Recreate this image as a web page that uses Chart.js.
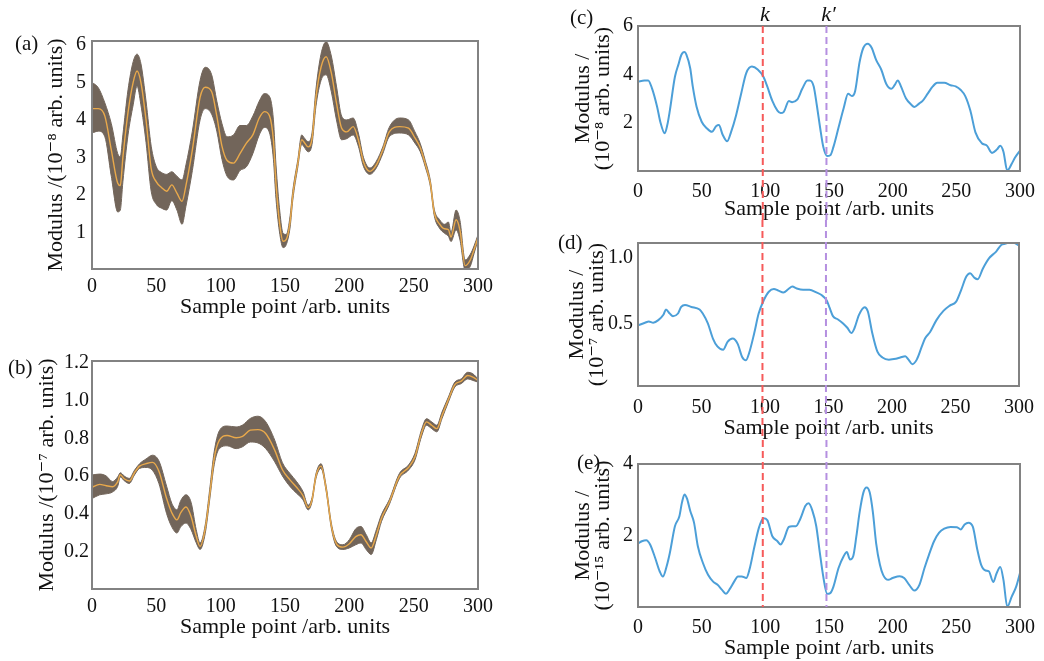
<!DOCTYPE html>
<html>
<head>
<meta charset="utf-8">
<script src="https://cdn.jsdelivr.net/npm/chart.js@4.4.0/dist/chart.umd.min.js"></script>
<style>
  body { margin: 0; background: #fff; }
  #page { position: relative; width: 1044px; height: 661px; overflow: hidden; font-family: 'Liberation Serif', 'DejaVu Serif', serif; }
  #page canvas { position: absolute; }
  .tag { position: absolute; font-size: 21px; line-height: 1; color: #111; }
</style>
</head>
<body>
<div id="page">
  <canvas id="chart-a" width="500" height="310" style="left:0;top:20px"></canvas>
  <canvas id="chart-b" width="500" height="331" style="left:0;top:330px"></canvas>
  <canvas id="chart-c" width="484" height="220" style="left:560px;top:0"></canvas>
  <canvas id="chart-d" width="484" height="220" style="left:560px;top:220px"></canvas>
  <canvas id="chart-e" width="484" height="221" style="left:560px;top:440px"></canvas>
  <div class="tag" style="left:15px;top:33px">(a)</div>
  <div class="tag" style="left:8px;top:357px">(b)</div>
  <div class="tag" style="left:570px;top:7px">(c)</div>
  <div class="tag" style="left:558px;top:232px">(d)</div>
  <div class="tag" style="left:577px;top:452px">(e)</div>
</div>
<script>
// sample axis shared by every panel
const sampleTicks = [0, 50, 100, 150, 200, 250, 300];

// (a) spread of all runs (upper / lower edge) and the mean, 10^-8
const aX = [0, 5, 10, 15, 20, 22, 24, 28, 32, 35, 38, 42, 46, 50, 54, 58, 62, 66, 70, 73,
    78, 84, 88, 93, 97, 101, 105, 110, 115, 120, 125, 130, 134, 138, 141, 143, 146, 148.5, 151, 154,
    156, 160, 163, 165, 168, 171, 174, 178, 182, 186, 190, 194, 198, 203, 207, 211, 216, 221, 226, 231,
    239, 246, 251, 255, 259, 263, 266, 270, 274, 277, 279, 283, 286, 290, 294, 297, 300];
const aUpper = [5.0, 4.85, 4.45, 3.9, 3.1, 3.02, 3.6, 4.8, 5.55, 5.75, 5.5, 4.5, 3.3, 2.75, 2.6, 2.55, 2.62, 2.5, 2.4, 2.8,
    3.7, 5.05, 5.4, 5.2, 4.5, 3.9, 3.55, 3.6, 3.85, 3.85, 4.1, 4.5, 4.7, 4.62, 4.0, 2.8, 1.55, 0.98, 0.95, 1.45,
    2.1, 2.95, 3.6, 3.52, 3.42, 3.65, 4.8, 5.75, 6.08, 5.7, 4.9, 4.1, 4.0, 4.05, 3.65, 3.0, 2.72, 2.9, 3.28, 3.8,
    4.05, 4.0, 3.68, 3.38, 2.92, 2.38, 1.62, 1.35, 1.22, 1.28, 1.0, 1.6, 1.32, 0.27, 0.42, 0.65, 0.94];
const aLower = [3.65, 3.7, 3.55, 2.5, 1.55, 1.6, 2.35, 3.6, 4.4, 4.9, 4.4, 3.4, 2.1, 1.75, 1.65, 1.6, 1.85, 1.6, 1.22, 1.7,
    2.65, 4.0, 4.3, 4.15, 3.7, 2.95, 2.5, 2.4, 2.65, 2.75, 3.1, 3.6, 3.8, 3.65, 2.95, 1.9, 0.95, 0.6, 0.68, 1.15,
    1.85, 2.75, 3.35, 3.27, 3.15, 3.35, 4.35, 5.05, 5.2, 4.75, 4.0, 3.47, 3.5, 3.6, 3.3, 2.76, 2.55, 2.72, 3.1, 3.55,
    3.65, 3.6, 3.38, 3.16, 2.75, 2.22, 1.45, 1.12, 0.98, 0.9, 0.76, 1.07, 0.8, 0.0, 0.1, 0.45, 0.8];
const aMean = [4.3, 4.3, 4.1, 3.2, 2.31, 2.25, 3.0, 4.2, 5.0, 5.3, 5.0, 4.0, 2.7, 2.35, 2.2, 2.1, 2.27, 2.05, 1.83, 2.25,
    3.2, 4.6, 4.87, 4.75, 4.1, 3.3, 2.92, 2.85, 3.1, 3.38, 3.6, 4.05, 4.22, 4.1, 3.45, 2.3, 1.2, 0.77, 0.82, 1.3,
    1.98, 2.85, 3.47, 3.4, 3.28, 3.5, 4.58, 5.4, 5.68, 5.25, 4.45, 3.78, 3.68, 3.82, 3.47, 2.88, 2.63, 2.8, 3.2, 3.68,
    3.82, 3.78, 3.52, 3.27, 2.83, 2.3, 1.53, 1.23, 1.1, 1.08, 0.88, 1.34, 1.06, 0.12, 0.27, 0.55, 0.87];
const aYTicks = [1, 2, 3, 4, 5, 6];

// (b) same, 10^-7
const bX = [0, 6, 11, 16, 20, 22, 25, 29, 33, 37, 42, 47, 52, 58, 62, 66, 69, 73, 77, 81,
    84, 88, 91.5, 95, 99, 105, 112, 117, 123, 129, 135, 142, 148, 154, 159, 164, 168, 171, 174, 178,
    182, 186, 190, 195, 200, 205, 209, 213, 217, 221, 225, 231, 239, 246, 251, 256, 260, 264, 268, 272,
    277, 282, 287, 292, 296, 300];
const bUpper = [0.605, 0.61, 0.6, 0.57, 0.595, 0.617, 0.6, 0.587, 0.63, 0.665, 0.69, 0.71, 0.68, 0.545, 0.455, 0.42, 0.47, 0.5, 0.46, 0.315,
    0.245, 0.34, 0.53, 0.73, 0.84, 0.865, 0.86, 0.87, 0.905, 0.917, 0.888, 0.79, 0.67, 0.612, 0.57, 0.517, 0.445, 0.485, 0.61, 0.665,
    0.545, 0.35, 0.253, 0.235, 0.262, 0.32, 0.332, 0.29, 0.245, 0.315, 0.395, 0.473, 0.614, 0.658, 0.72, 0.843, 0.904, 0.887, 0.869, 0.939,
    1.019, 1.098, 1.115, 1.15, 1.142, 1.115];
const bLower = [0.48, 0.5, 0.505, 0.515, 0.545, 0.595, 0.575, 0.56, 0.605, 0.64, 0.645, 0.63, 0.56, 0.4, 0.33, 0.297, 0.33, 0.35, 0.315, 0.245,
    0.21, 0.295, 0.475, 0.66, 0.745, 0.76, 0.745, 0.755, 0.78, 0.775, 0.745, 0.675, 0.6, 0.543, 0.508, 0.473, 0.42, 0.462, 0.585, 0.64,
    0.518, 0.323, 0.226, 0.21, 0.218, 0.235, 0.244, 0.21, 0.183, 0.262, 0.358, 0.447, 0.587, 0.631, 0.685, 0.807, 0.869, 0.851, 0.834, 0.904,
    0.992, 1.072, 1.09, 1.115, 1.107, 1.098];
const bMean = [0.54, 0.555, 0.548, 0.543, 0.57, 0.607, 0.585, 0.573, 0.617, 0.652, 0.665, 0.672, 0.625, 0.48, 0.405, 0.367, 0.405, 0.435, 0.385, 0.28,
    0.226, 0.32, 0.5, 0.695, 0.79, 0.815, 0.803, 0.81, 0.843, 0.846, 0.825, 0.737, 0.633, 0.578, 0.54, 0.495, 0.432, 0.473, 0.598, 0.652,
    0.53, 0.336, 0.24, 0.222, 0.24, 0.278, 0.288, 0.252, 0.218, 0.288, 0.376, 0.46, 0.6, 0.645, 0.702, 0.825, 0.887, 0.869, 0.851, 0.92,
    1.006, 1.085, 1.103, 1.133, 1.125, 1.107];
const bYTicks = [0.2, 0.4, 0.6, 0.8, 1.0, 1.2];

// (c) single run, 10^-8
const cX = [0, 5, 8, 11, 15, 17.5, 21, 23, 25, 29, 32, 34, 36.5, 38, 41, 43, 46, 50, 54, 58,
    61.5, 63.5, 66.5, 70, 73, 77, 81, 85, 89.5, 94, 98.5, 101.5, 105.5, 109.5, 112, 114.5, 118.5, 121, 125, 129,
    133, 135, 138, 140.5, 143, 145.5, 148.5, 151, 153.5, 157.5, 161.5, 165, 168, 170.5, 174, 177, 180.5, 183.5, 187, 191,
    195, 199, 201.5, 204, 206.5, 210.5, 214.5, 217, 221, 223.5, 227.5, 231.5, 235, 240.5, 245.5, 249.5, 253.5, 257, 261, 265,
    270, 274, 278, 282, 284.5, 287, 290, 293.5, 296, 300];
const cY = [3.7, 3.74, 3.75, 3.42, 2.66, 2.04, 1.56, 1.9, 2.5, 3.9, 4.45, 4.8, 4.92, 4.82, 4.25, 3.5, 2.66, 2.04, 1.77, 1.62,
    1.86, 1.9, 1.5, 1.23, 1.6, 2.3, 3.2, 4.05, 4.32, 4.2, 3.9, 3.5, 2.9, 2.5, 2.4, 2.45, 2.9, 2.85, 2.95, 3.4,
    3.75, 3.75, 3.5, 2.7, 1.8, 1.0, 0.62, 0.65, 1.0, 1.8, 2.6, 3.2, 3.1, 3.3, 4.5, 5.1, 5.27, 5.1, 4.6, 4.2,
    3.6, 3.4, 3.55, 3.75, 3.5, 3.0, 2.75, 2.65, 2.8, 2.9, 3.2, 3.5, 3.65, 3.65, 3.55, 3.5, 3.35, 3.1, 2.5, 1.6,
    1.15, 1.05, 0.75, 0.9, 1.05, 0.8, 0.02, 0.3, 0.55, 0.85];
const cYTicks = [2, 4, 6];

// (d) single run, 10^-7
const dX = [0, 5.5, 8.5, 12, 16, 20, 22, 25, 27.5, 31.5, 34, 37, 42, 48.5, 51, 55, 59, 62.5, 67, 70.5,
    74.5, 78.5, 82, 85, 87.5, 91.5, 95, 99, 103, 107, 110.5, 114.5, 118.5, 121.5, 125, 130, 135, 140.5, 144.5, 148.5,
    151, 153.5, 157.5, 161.5, 165, 168, 170.5, 174, 178.5, 181, 184.5, 188.5, 192.5, 197.5, 203, 206.5, 210.5, 213, 216, 219.5,
    223.5, 226, 230, 235, 240.5, 245.5, 250.5, 254.5, 258.5, 261.5, 265, 267.5, 271.5, 276.5, 282, 286, 289.5, 293.5, 297.5, 300];
const dY = [0.49, 0.51, 0.52, 0.51, 0.53, 0.57, 0.61, 0.58, 0.56, 0.58, 0.63, 0.645, 0.63, 0.61, 0.58, 0.505, 0.39, 0.33, 0.305, 0.365,
    0.39, 0.35, 0.25, 0.225, 0.28, 0.43, 0.58, 0.68, 0.745, 0.766, 0.754, 0.74, 0.766, 0.784, 0.77, 0.76, 0.76, 0.74, 0.72, 0.68,
    0.62, 0.56, 0.535, 0.505, 0.47, 0.432, 0.47, 0.57, 0.628, 0.595, 0.43, 0.29, 0.246, 0.23, 0.236, 0.246, 0.256, 0.23, 0.195, 0.23,
    0.33, 0.39, 0.44, 0.53, 0.6, 0.64, 0.67, 0.76, 0.86, 0.885, 0.85, 0.84, 0.92, 1.0, 1.05, 1.1, 1.11, 1.125, 1.11, 1.095];
const dYTicks = [0.5, 1.0];

// (e) single run, 10^-15
const eX = [0, 3, 6.5, 9.5, 13.5, 17, 19.5, 22.5, 25, 29, 32.5, 34.5, 36.5, 38.5, 41, 44, 47, 51, 55, 59,
    62.5, 66, 69, 72, 75.5, 78.5, 81.5, 85, 87.5, 91.5, 95, 98.5, 101.5, 105.5, 109.5, 112, 114.5, 118.5, 121, 124,
    127.5, 131.5, 134, 137, 140, 142.5, 145.5, 148.5, 151, 153.5, 157.5, 161.5, 164, 166.5, 169, 171.5, 174, 177, 179.5, 182,
    184.5, 187, 190, 192.5, 196.5, 200, 205.5, 209, 213, 217, 221, 225, 228.5, 232.5, 236.5, 240.5, 245.5, 250.5, 253.5, 256.5,
    259.5, 263, 266.5, 269.5, 273, 275.5, 279, 281.5, 284.5, 287, 290, 293.5, 297, 300];
const eY = [1.775, 1.84, 1.87, 1.75, 1.37, 1.0, 0.85, 1.14, 1.51, 2.26, 2.54, 2.92, 3.15, 3.03, 2.69, 2.36, 1.7, 1.23, 0.9, 0.71,
    0.62, 0.48, 0.37, 0.5, 0.71, 0.855, 0.855, 0.81, 1.04, 1.7, 2.22, 2.48, 2.43, 1.98, 1.84, 1.75, 1.89, 2.24, 2.26, 2.26,
    2.47, 2.83, 2.9, 2.69, 2.26, 1.6, 0.85, 0.37, 0.39, 0.57, 1.09, 1.42, 1.54, 1.33, 1.42, 1.98, 2.64, 3.2, 3.34, 3.2,
    2.64, 1.79, 1.18, 0.9, 0.76, 0.81, 0.86, 0.81, 0.62, 0.46, 0.62, 1.09, 1.46, 1.84, 2.08, 2.19, 2.24, 2.23, 2.17, 2.31,
    2.36, 2.24, 1.6, 1.18, 1.02, 1.0, 0.7, 0.93, 1.12, 0.76, 0.01, 0.29, 0.57, 0.95];
const eYTicks = [2, 4];

// marked sample points k and k'
const kPoints = [98, 148];
const kNames = ['k', 'k\u2032'];
const kColors = ['#f65a5a', '#b58fe0'];

const INK = '#111';
const BLUE = '#4c9fd8';
const BAND = '#72655a';
const MEAN = '#e9a94b';

Chart.defaults.font.family = "'Liberation Serif', 'DejaVu Serif', serif";
Chart.defaults.color = INK;

function pts(xs, ys) {
    return xs.map((x, i) => ({ x: x, y: ys[i] }));
}

// grey frame round the plot area
const boxPlugin = {
    id: 'box',
    afterDatasetsDraw(chart) {
        const a = chart.chartArea;
        const ctx = chart.ctx;
        ctx.save();
        ctx.strokeStyle = '#828282';
        ctx.lineWidth = 2;
        ctx.strokeRect(a.left, a.top, a.right - a.left, a.bottom - a.top);
        ctx.restore();
    }
};

// dashed k / k' lines running down the right column
function kPlugin(fromCanvasTop, toCanvasBottom, withNames) {
    return {
        id: 'kLines',
        afterDraw(chart) {
            const ctx = chart.ctx;
            const a = chart.chartArea;
            const y0 = fromCanvasTop ? 0 : a.top;
            const y1 = toCanvasBottom ? chart.height : a.bottom;
            kPoints.forEach((k, i) => {
                const px = chart.scales.x.getPixelForValue(k);
                ctx.save();
                ctx.strokeStyle = kColors[i];
                ctx.lineWidth = 2;
                ctx.setLineDash([7, 4]);
                ctx.beginPath();
                ctx.moveTo(px, y0);
                ctx.lineTo(px, y1);
                ctx.stroke();
                if (withNames) {
                    ctx.setLineDash([]);
                    ctx.fillStyle = INK;
                    ctx.font = "italic 22px 'Liberation Serif', serif";
                    ctx.textAlign = 'center';
                    ctx.textBaseline = 'middle';
                    ctx.fillText(kNames[i], px + 2, 15);
                }
                ctx.restore();
            });
        }
    };
}

function bandSets(xs, upper, lower, mean) {
    return [
        { data: pts(xs, mean), borderColor: MEAN, borderWidth: 1.4, fill: false },
        { data: pts(xs, upper), borderColor: BAND, borderWidth: 1, fill: false },
        { data: pts(xs, lower), borderColor: BAND, borderWidth: 1, fill: '-1', backgroundColor: BAND }
    ];
}

function lineSet(xs, ys) {
    return [{ data: pts(xs, ys), borderColor: BLUE, borderWidth: 2, fill: false }];
}

function makeChart(id, datasets, o) {
    return new Chart(document.getElementById(id), {
        type: 'line',
        data: { datasets: datasets },
        options: {
            responsive: false,
            animation: false,
            events: [],
            layout: { padding: { top: o.top, right: o.right, left: 0, bottom: 0 } },
            plugins: { legend: { display: false }, tooltip: { enabled: false } },
            elements: { point: { radius: 0 }, line: { cubicInterpolationMode: 'monotone' } },
            scales: {
                x: {
                    type: 'linear', min: 0, max: 300,
                    grid: { display: false, drawTicks: false },
                    border: { display: false },
                    afterBuildTicks: s => { s.ticks = sampleTicks.map(v => ({ value: v })); },
                    afterFit: s => { s.height = o.xh; },
                    ticks: { padding: o.xPad, autoSkip: false, maxRotation: 0, font: { size: 20 } },
                    title: {
                        display: true, text: 'Sample point /arb. units',
                        font: { size: 22, lineHeight: 1 },
                        padding: { top: 0, bottom: o.xTitlePad }
                    }
                },
                y: {
                    type: 'linear', min: o.yMin, max: o.yMax,
                    grid: { display: false, drawTicks: false },
                    border: { display: false },
                    afterBuildTicks: s => { s.ticks = o.yTicks.map(v => ({ value: v })); },
                    afterFit: s => { s.width = o.yw; },
                    ticks: { padding: o.yPad, font: { size: 20 }, callback: v => v.toFixed(o.dec) },
                    title: {
                        display: true, text: o.yTitle,
                        font: { size: 22, lineHeight: o.yLH },
                        padding: { top: o.yTitlePad, bottom: 0 }
                    }
                }
            }
        },
        plugins: [boxPlugin].concat(o.extra || [])
    });
}

makeChart('chart-a', bandSets(aX, aUpper, aLower, aMean), {
    top: 21, right: 22, xh: 61, xPad: 6, xTitlePad: 12,
    yw: 92, yPad: 6, yMin: 0.03, yMax: 6.1, yTicks: aYTicks, dec: 0,
    yTitle: 'Modulus /(10\u207B\u2078 arb. units)', yLH: 1, yTitlePad: 45
});

makeChart('chart-b', bandSets(bX, bUpper, bLower, bMean), {
    top: 31, right: 22, xh: 72, xPad: 6, xTitlePad: 23,
    yw: 92, yPad: 3, yMin: 0, yMax: 1.21, yTicks: bYTicks, dec: 1,
    yTitle: 'Modulus /(10\u207B\u2077 arb. units)', yLH: 1, yTitlePad: 36
});

makeChart('chart-c', lineSet(cX, cY), {
    top: 26, right: 21, xh: 49, xPad: 9, xTitlePad: 0,
    yw: 78, yPad: 5, yMin: 0, yMax: 6, yTicks: cYTicks, dec: 0,
    yTitle: ['Modulus /', '(10\u207B\u2078 arb. units)'], yLH: 0.92, yTitlePad: 13,
    extra: [kPlugin(false, true, true)]
});

makeChart('chart-d', lineSet(dX, dY), {
    top: 23, right: 21, xh: 54, xPad: 10, xTitlePad: 1,
    yw: 78, yPad: 5, yMin: 0.03, yMax: 1.115, yTicks: dYTicks, dec: 1,
    yTitle: ['Modulus /', '(10\u207B\u2077 arb. units)'], yLH: 0.92, yTitlePad: 7,
    extra: [kPlugin(true, true, false)]
});

makeChart('chart-e', lineSet(eX, eY), {
    top: 24, right: 21, xh: 54, xPad: 9, xTitlePad: 2,
    yw: 78, yPad: 5, yMin: 0, yMax: 4, yTicks: eYTicks, dec: 0,
    yTitle: ['Modulus /', '(10\u207B\u00B9\u2075 arb. units)'], yLH: 0.92, yTitlePad: 13,
    extra: [kPlugin(true, false, false)]
});
</script>
</body>
</html>
